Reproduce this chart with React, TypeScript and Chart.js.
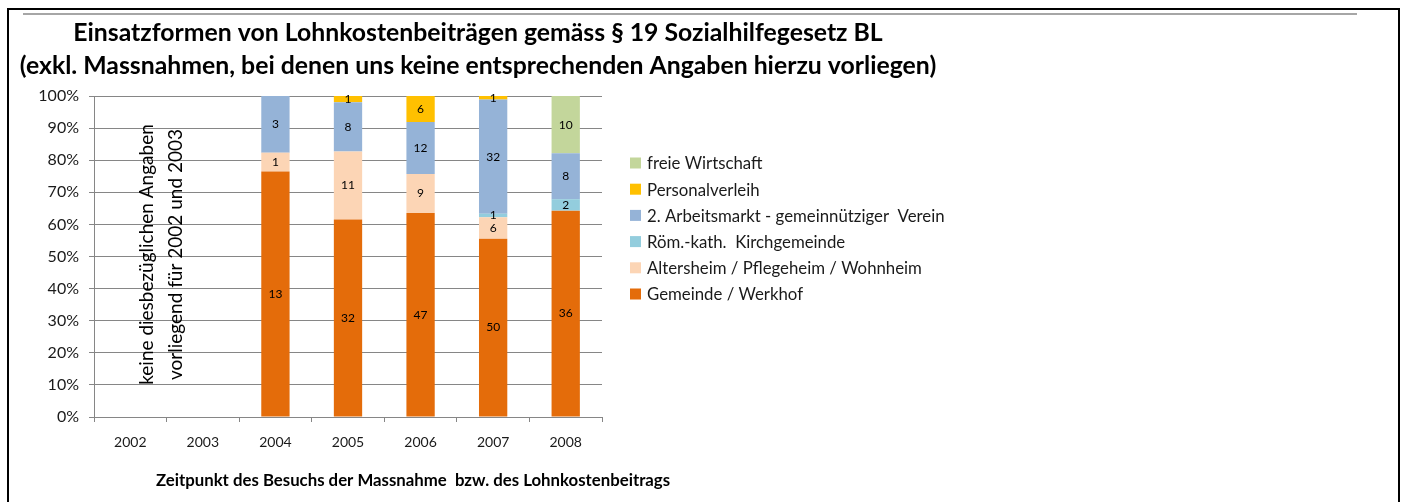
import React, { useEffect, useRef } from "react";
import { Chart, registerables } from "chart.js";

Chart.register(...registerables);

// ---- data ----
const years = ["2002", "2003", "2004", "2005", "2006", "2007", "2008"];
const seriesNames = [
  "Gemeinde / Werkhof",
  "Altersheim / Pflegeheim / Wohnheim",
  "Röm.-kath.  Kirchgemeinde",
  "2. Arbeitsmarkt - gemeinnütziger  Verein",
  "Personalverleih",
  "freie Wirtschaft",
];
const gemeindeWerkhof = [0, 0, 13, 32, 47, 50, 36];
const altersheim = [0, 0, 1, 11, 9, 6, 0];
const kirchgemeinde = [0, 0, 0, 0, 0, 1, 2];
const arbeitsmarkt = [0, 0, 3, 8, 12, 32, 8];
const personalverleih = [0, 0, 0, 1, 6, 1, 0];
const freieWirtschaft = [0, 0, 0, 0, 0, 0, 10];
const seriesColors = ["#E46C0A", "#FCD5B5", "#93CDDD", "#95B3D7", "#FFC000", "#C3D69B"];
const yTickStep = 10;
const titleLines = [
  "Einsatzformen von Lohnkostenbeiträgen gemäss § 19 Sozialhilfegesetz BL",
  "(exkl. Massnahmen, bei denen uns keine entsprechenden Angaben hierzu vorliegen)",
];
const xAxisTitle = "Zeitpunkt des Besuchs der Massnahme  bzw. des Lohnkostenbeitrags";
const noteLines = ["keine diesbezüglichen Angaben", "vorliegend für 2002 und 2003"];

const counts = [gemeindeWerkhof, altersheim, kirchgemeinde, arbeitsmarkt, personalverleih, freieWirtschaft];
const totals = years.map((_, i) => counts.reduce((s, c) => s + c[i], 0));
const percents = counts.map((c) => c.map((v, i) => (totals[i] > 0 ? (v / totals[i]) * 100 : null)));

const FONT = "Lato, 'Open Sans', sans-serif";
const TEXT = "#1a1a1a";

const overlayPlugin = {
  id: "overlay",
  afterDraw(chart: any) {
    const ctx = chart.ctx;
    const x = chart.scales.x;
    const area = chart.chartArea;
    ctx.save();
    // title
    ctx.fillStyle = "#000";
    ctx.textAlign = "center";
    ctx.textBaseline = "middle";
    ctx.font = `bold 24.8px ${FONT}`;
    ctx.fillText(titleLines[0], 478, 33);
    ctx.fillText(titleLines[1], 478, 66);
    // x axis title
    ctx.font = `bold 16.8px ${FONT}`;
    ctx.fillText(xAxisTitle, 413, 481);
    // data labels
    ctx.font = `12px ${FONT}`;
    ctx.fillStyle = "#000";
    chart.data.datasets.forEach((ds: any, di: number) => {
      const meta = chart.getDatasetMeta(di);
      meta.data.forEach((el: any, i: number) => {
        const c = ds.counts[i];
        if (!c) return;
        const p = el.getProps(["x", "y", "base"], true);
        ctx.fillText(String(c), p.x, (p.y + p.base) / 2);
      });
    });
    // rotated note
    const cx = (x.getPixelForValue(0) + x.getPixelForValue(1)) / 2 - 5;
    const cy = (area.top + area.bottom) / 2 - 2;
    ctx.translate(cx, cy);
    ctx.rotate(-Math.PI / 2);
    ctx.font = `19px ${FONT}`;
    ctx.fillStyle = "#000";
    ctx.fillText(noteLines[0], 0, -14.5);
    ctx.fillText(noteLines[1], 0, 14.5);
    ctx.setTransform(1, 0, 0, 1, 0, 0);
    // legend (reverse order)
    ctx.textAlign = "left";
    ctx.font = `16.8px ${FONT}`;
    const order = chart.data.datasets.map((_: any, i: number) => i).reverse();
    order.forEach((di: number, k: number) => {
      const ds = chart.data.datasets[di];
      const y = 163 + k * 26.2;
      ctx.fillStyle = ds.backgroundColor;
      ctx.fillRect(630, y - 5.5, 11, 11);
      ctx.fillStyle = TEXT;
      ctx.fillText(ds.label, 647, y + 1);
    });
    ctx.restore();
  },
};

export default function App() {
  const ref = useRef<HTMLCanvasElement>(null);
  useEffect(() => {
    if (!ref.current) return;
    const chart = new Chart(ref.current, {
      type: "bar",
      data: {
        labels: years,
        datasets: percents.map((d, i) => ({
          label: seriesNames[i],
          data: d,
          counts: counts[i],
          backgroundColor: seriesColors[i],
          borderWidth: 0,
          barPercentage: 0.39,
          categoryPercentage: 1,
        })) as any,
      },
      options: {
        responsive: false,
        animation: false,
        events: [],
        layout: { padding: { left: 0, top: 96, right: 804, bottom: 0 } },
        plugins: { legend: { display: false }, tooltip: { enabled: false }, title: { display: false } },
        scales: {
          x: {
            stacked: true,
            grid: { display: true, drawOnChartArea: false, drawTicks: true, tickLength: 5, color: "#868686", offset: true },
            border: { color: "#868686" },
            ticks: { color: TEXT, font: { family: FONT, size: 14 }, padding: 12, maxRotation: 0 },
            afterFit: (s: any) => {
              s.height = 85;
            },
          },
          y: {
            stacked: true,
            min: 0,
            max: 100,
            grid: { color: "#868686", tickLength: 5 },
            border: { color: "#868686" },
            ticks: {
              stepSize: yTickStep,
              color: TEXT,
              font: { family: FONT, size: 16 },
              padding: 10,
              callback: (v: any) => `${v}%`,
            },
            afterFit: (s: any) => {
              s.width = 94;
            },
          },
        },
      },
      plugins: [overlayPlugin],
    });
    return () => chart.destroy();
  }, []);

  return (
    <div style={{ position: "fixed", left: 0, top: 0, width: 1406, height: 502, background: "#fff", overflow: "hidden" }}>
      <canvas ref={ref} width={1406} height={502} style={{ position: "absolute", left: 0, top: 0, display: "block" }} />
      <div
        style={{
          position: "absolute",
          left: 7,
          top: 8,
          width: 1393,
          height: 600,
          boxSizing: "border-box",
          borderTop: "2px solid #000",
          borderLeft: "2px solid #000",
          borderRight: "2px solid #000",
          pointerEvents: "none",
        }}
      />
      <div style={{ position: "absolute", left: 23, top: 13, width: 1334, height: 2, background: "#a6a6a6" }} />
    </div>
  );
}
